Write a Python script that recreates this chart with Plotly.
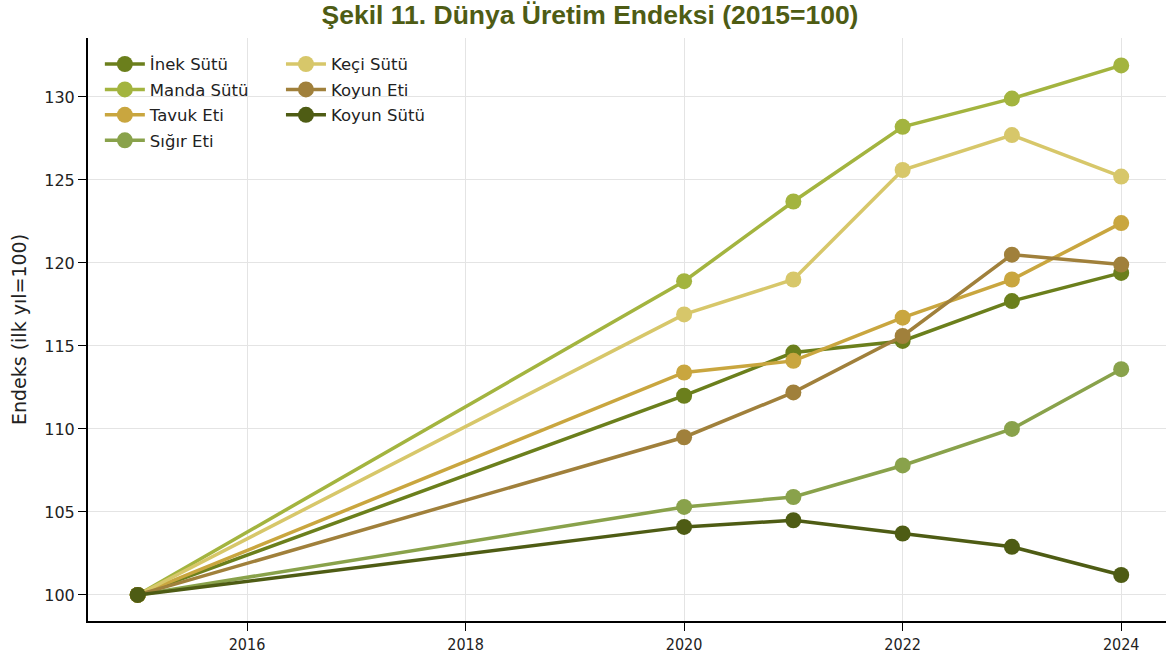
import plotly.graph_objects as go

years = [2015, 2020, 2021, 2022, 2023, 2024]

inek_sutu = [100, 112.0, 114.6, 115.3, 117.7, 119.4]
manda_sutu = [100, 118.9, 123.7, 128.2, 129.9, 131.9]
tavuk_eti = [100, 113.4, 114.1, 116.7, 119.0, 122.4]
sigir_eti = [100, 105.3, 105.9, 107.8, 110.0, 113.6]
keci_sutu = [100, 116.9, 119.0, 125.6, 127.7, 125.2]
koyun_eti = [100, 109.5, 112.2, 115.6, 120.5, 119.9]
koyun_sutu = [100, 104.1, 104.5, 103.7, 102.9, 101.2]

names = ["İnek Sütü", "Manda Sütü", "Tavuk Eti", "Sığır Eti", "Keçi Sütü", "Koyun Eti", "Koyun Sütü"]
series = [inek_sutu, manda_sutu, tavuk_eti, sigir_eti, keci_sutu, koyun_eti, koyun_sutu]
colors = ["#6b7f1c", "#a3b43f", "#c9a63f", "#89a24b", "#d7c76a", "#a0803b", "#4e5c14"]
legends = ["legend", "legend", "legend", "legend", "legend2", "legend2", "legend2"]

fig = go.Figure()
for i, (n, s, c, lg) in enumerate(zip(names, series, colors, legends)):
    fig.add_trace(go.Scatter(
        x=years, y=s, name=n, mode="lines+markers",
        line=dict(color=c, width=3.5),
        marker=dict(color=c, size=16),
        legend=lg, legendgroup=f"g{i}",
    ))

legfont = dict(family="DejaVu Sans", size=16.5, color="#222")

fig.update_layout(
    width=1166, height=662,
    paper_bgcolor="white", plot_bgcolor="white",
    margin=dict(l=88, r=0, t=38, b=41),
    title=dict(text="<b>Şekil 11. Dünya Üretim Endeksi (2015=100)</b>",
               font=dict(family="Liberation Sans", size=26.5, color="#4e5c14"),
               x=590 / 1166, xanchor="center", xref="container",
               y=1 - 15 / 662, yanchor="middle"),
    showlegend=True,
    legend=dict(x=0.011, y=0.985, xanchor="left", yanchor="top",
                bgcolor="rgba(0,0,0,0)", font=legfont, tracegroupgap=1,
                itemwidth=40),
    legend2=dict(x=0.179, y=0.985, xanchor="left", yanchor="top",
                 bgcolor="rgba(0,0,0,0)", font=legfont, tracegroupgap=1,
                 itemwidth=40),
    xaxis=dict(range=[2014.545, 2024.41], tickvals=[2016, 2018, 2020, 2022, 2024],
               showgrid=True, gridcolor="#e4e4e4", gridwidth=1,
               showline=True, linecolor="black", linewidth=2,
               ticks="outside", ticklen=8, tickcolor="black",
               tickfont=dict(family="Liberation Sans Narrow, DejaVu Sans Condensed", size=16, color="#222"),
               zeroline=False),
    yaxis=dict(range=[98.43, 133.55], tickvals=[100, 105, 110, 115, 120, 125, 130],
               showgrid=True, gridcolor="#e4e4e4", gridwidth=1,
               showline=True, linecolor="black", linewidth=2,
               ticks="outside", ticklen=8, tickcolor="black",
               tickfont=dict(family="DejaVu Sans", size=16, color="#222"),
               zeroline=False,
               title=dict(text="Endeks (ilk yıl=100)",
                          font=dict(family="DejaVu Sans", size=19, color="#222"),
                          standoff=13)),
)

fig.write_html("out.html", config={"displayModeBar": False},
               post_script="document.body.style.margin='0px';")
